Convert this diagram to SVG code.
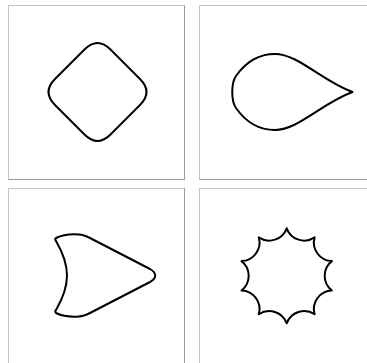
<svg xmlns="http://www.w3.org/2000/svg" width="367" height="363" viewBox="0 0 367 363">
<style>
.box{fill:#fff;stroke:#c4c4c4;stroke-width:1}
.edge{fill:none;stroke:#9a9a9a;stroke-width:1}
.shape{fill:none;stroke:#000;stroke-width:2;stroke-linejoin:round}
</style>
<rect width="367" height="363" fill="#fff"/>
<g id="panel1">
<rect class="box" x="8.5" y="5.5" width="176" height="174"/>
<path class="edge" d="M184.5,5.5 V179.5 H8.5"/>
<path class="shape" d="M84.5,49.5 Q97.5,36.5 110.5,49.5 L140,79 Q153,92 140,105 L110.5,134.5 Q97.5,147.5 84.5,134.5 L55,105 Q42,92 55,79 Z"/>
</g>
<g id="panel2">
<rect class="box" x="199.5" y="5.5" width="176" height="174"/>
<path class="edge" d="M375.5,179.5 H199.5"/>
<path class="shape" d="M275,54 C298,54 322,81 352.5,92 C322,103 298,130 275,130 C255,130 243,118 236,108 C231,101 231,83 236,76 C243,66 255,54 275,54 Z"/>
</g>
<g id="panel3">
<rect class="box" x="8.5" y="188.5" width="176" height="176"/>
<path class="edge" d="M184.5,188.5 V364"/>
<path class="shape" d="M56,238 C62,235 72,234 79,234.5 C83,234.7 86,236 90,238 L150,269 C157,273 157,278 150,282 L90,313 C86,315 83,316.3 79,316.5 C72,317 62,316 56,313 C55,312 55,311 56,310 C63,298 67,287 67,275.5 C67,264 63,253 56,241 C55,240 55,239 56,238 Z"/>
</g>
<g id="panel4">
<rect class="box" x="199.5" y="188.5" width="176" height="176"/>
<path class="shape" d="M286.7,228.3 A18.6,18.6 0 0 0 314.62,237.37 A18.6,18.6 0 0 0 331.88,261.12 A18.6,18.6 0 0 0 331.88,290.48 A18.6,18.6 0 0 0 314.62,314.23 A18.6,18.6 0 0 0 286.7,323.3 A18.6,18.6 0 0 0 258.78,314.23 A18.6,18.6 0 0 0 241.52,290.48 A18.6,18.6 0 0 0 241.52,261.12 A18.6,18.6 0 0 0 258.78,237.37 A18.6,18.6 0 0 0 286.7,228.3 Z"/>
</g>
<g id="connectors"/>
</svg>
